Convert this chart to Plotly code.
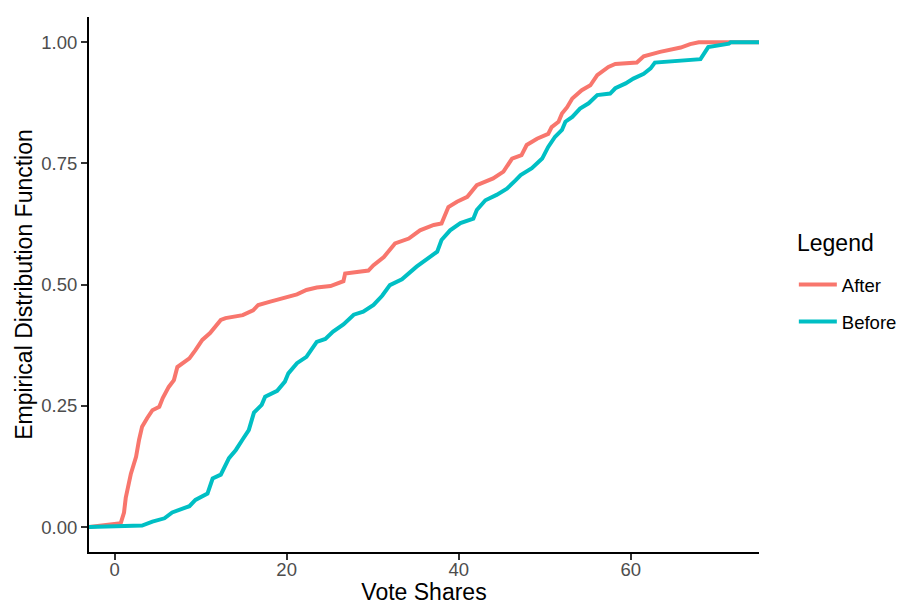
import plotly.graph_objects as go

# Empirical CDF (vote share, cumulative proportion)
after_x = [0.72, 1.1, 1.3, 1.9, 2.5, 2.85, 3.2, 3.8, 4.4, 5.2, 5.6, 6.3, 6.9, 7.3, 8.1, 8.7,
           9.4, 10.2, 11.1, 11.9, 12.35, 12.9, 13.8, 14.9, 16.1, 16.7, 18.1, 19.6, 21.2, 22.3,
           23.5, 25.1, 26.6, 26.8, 29.5, 30.1, 31.3, 32.6, 34.2, 35.5, 37.1, 38.0, 38.8, 39.8,
           41.0, 42.1, 44.0, 45.2, 46.2, 47.3, 47.9, 49.1, 50.4, 50.8, 51.6, 52.0, 52.6, 53.2,
           54.3, 55.3, 56.1, 57.4, 58.2, 60.7, 61.5, 63.4, 65.8, 66.9, 67.9]
after_y = [0.008, 0.03, 0.06, 0.11, 0.145, 0.18, 0.207, 0.225, 0.241, 0.248, 0.266, 0.289, 0.303,
           0.33, 0.341, 0.348, 0.365, 0.386, 0.40, 0.417, 0.427, 0.431, 0.434, 0.437, 0.447, 0.458,
           0.465, 0.472, 0.48, 0.489, 0.494, 0.497, 0.507, 0.523, 0.529, 0.54, 0.557, 0.585, 0.595,
           0.612, 0.623, 0.626, 0.66, 0.671, 0.681, 0.705, 0.719, 0.733, 0.76, 0.767, 0.788, 0.801,
           0.811, 0.825, 0.836, 0.853, 0.866, 0.884, 0.901, 0.911, 0.932, 0.949, 0.955, 0.958,
           0.971, 0.98, 0.989, 0.996, 1.0]

before_x = [0.9, 3.2, 4.4, 5.8, 6.7, 8.7, 9.4, 10.8, 11.4, 12.35, 13.3, 14.1, 14.9, 15.6, 16.2,
            17.1, 17.5, 18.9, 19.8, 20.2, 21.2, 22.3, 23.5, 24.5, 25.4, 26.6, 27.8, 28.9, 30.1,
            31.1, 32.0, 33.4, 35.1, 36.7, 37.5, 38.0, 39.0, 40.2, 41.7, 42.1, 43.1, 44.4, 45.6,
            46.6, 47.2, 48.5, 49.7, 50.4, 51.2, 52.0, 52.4, 53.2, 54.1, 55.1, 56.1, 57.6, 58.2,
            59.4, 60.3, 61.5, 62.3, 62.8, 65.0, 68.1, 69.0, 71.4, 71.6]
before_y = [0.0006, 0.003, 0.011, 0.018, 0.03, 0.043, 0.056, 0.069, 0.1, 0.108, 0.142, 0.159,
            0.181, 0.2, 0.236, 0.252, 0.269, 0.281, 0.3, 0.317, 0.338, 0.351, 0.382, 0.388,
            0.403, 0.418, 0.438, 0.444, 0.458, 0.477, 0.499, 0.511, 0.537, 0.557, 0.568, 0.592,
            0.612, 0.627, 0.636, 0.654, 0.674, 0.685, 0.698, 0.715, 0.726, 0.74, 0.76, 0.784,
            0.805, 0.819, 0.836, 0.846, 0.863, 0.874, 0.891, 0.894, 0.905, 0.915, 0.925, 0.935,
            0.946, 0.958, 0.961, 0.965, 0.99, 0.997, 1.0]

x_range = [-2.97, 74.9]
y_range = [-0.0515, 1.052]
x_ticks = [0, 20, 40, 60]
y_ticks = [0, 0.25, 0.5, 0.75, 1.0]
y_tick_text = ["0.00", "0.25", "0.50", "0.75", "1.00"]

def padded(xs, ys):
    return [x_range[0]] + xs + [x_range[1]], [0.0] + ys + [1.0]

fig = go.Figure()
ax, ay = padded(after_x, after_y)
bx, by = padded(before_x, before_y)
fig.add_trace(go.Scatter(x=ax, y=ay, mode="lines", name="After", legendgroup="a",
                         line=dict(color="#F8766D", width=4)))
fig.add_trace(go.Scatter(x=bx, y=by, mode="lines", name="Before", legendgroup="b",
                         line=dict(color="#00BFC4", width=4)))

font_family = "Liberation Sans, Arial, sans-serif"
fig.update_layout(
    width=900, height=605,
    margin=dict(l=89, r=141, t=17, b=53, autoexpand=False),
    paper_bgcolor="white", plot_bgcolor="white",
    font=dict(family=font_family, color="black"),
    showlegend=True,
    legend=dict(
        font=dict(size=18.5, color="black"),
        x=1.052, xanchor="left", y=0.4645, yanchor="middle",
        tracegroupgap=10, itemwidth=38, bgcolor="rgba(0,0,0,0)",
    ),
    annotations=[dict(
        text="Legend", xref="paper", yref="paper", x=1.0537, y=0.5776,
        xanchor="left", yanchor="middle", showarrow=False,
        font=dict(size=23, color="black", family=font_family),
    )],
    xaxis=dict(
        range=x_range, tickvals=x_ticks, ticktext=[str(v) for v in x_ticks],
        showgrid=False, zeroline=False, showline=True, linecolor="black", linewidth=2,
        ticks="outside", ticklen=6, tickwidth=1.5, tickcolor="#333333",
        tickfont=dict(size=18.5, color="#4D4D4D"), ticklabelstandoff=-6,
        automargin=False,
        title=dict(text="Vote Shares", font=dict(size=23, color="black"), standoff=7),
    ),
    yaxis=dict(
        range=y_range, tickvals=y_ticks, ticktext=y_tick_text,
        showgrid=False, zeroline=False, showline=True, linecolor="black", linewidth=2,
        ticks="outside", ticklen=6, tickwidth=1.5, tickcolor="#333333",
        tickfont=dict(size=18.5, color="#4D4D4D"),
        automargin=False,
        title=dict(text="Empirical Distribution Function", font=dict(size=23, color="black"), standoff=2),
    ),
)

fig.write_html("out.html")
